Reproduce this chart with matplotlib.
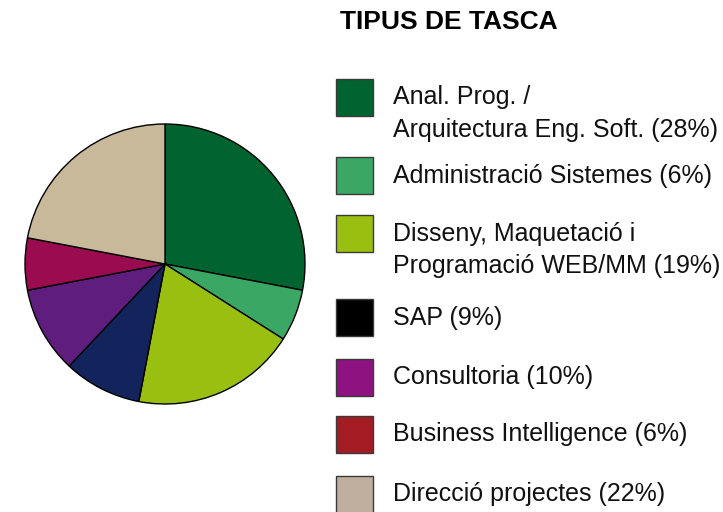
import matplotlib.pyplot as plt
from matplotlib.patches import Rectangle

plt.rcParams['font.family'] = ['Liberation Sans', 'DejaVu Sans']

title = 'TIPUS DE TASCA'
labels = ['Anal. Prog. /\nArquitectura Eng. Soft. (28%)',
          'Administració Sistemes (6%)',
          'Disseny, Maquetació i\nProgramació WEB/MM (19%)',
          'SAP (9%)',
          'Consultoria (10%)',
          'Business Intelligence (6%)',
          'Direcció projectes (22%)']
values = [28, 6, 19, 9, 10, 6, 22]
pie_colors = ['#006330', '#3aa864', '#99c010', '#13235b', '#5f1e7e', '#9b0b50', '#c9b99b']
legend_colors = ['#006330', '#3aa864', '#99c010', '#000000', '#8e1280', '#a31c24', '#c0ae9f']

W, H = 723, 512
fig = plt.figure(figsize=(W / 100, H / 100), dpi=100)

# pie, centred at about (165, 264) px with radius 140 px
ax = fig.add_axes([25 / W, (H - 404) / H, 280 / W, 280 / H])
ax.pie(values, colors=pie_colors, startangle=90, counterclock=False,
       wedgeprops=dict(edgecolor='black', linewidth=1.0))
ax.set_xlim(-1.0, 1.0)
ax.set_ylim(-1.0, 1.0)
ax.set_aspect('equal')
ax.axis('off')

# legend drawn in pixel coordinates
lg = fig.add_axes([0, 0, 1, 1])
lg.set_xlim(0, W)
lg.set_ylim(H, 0)
lg.axis('off')

lg.text(340, 22, title, fontsize=19, fontweight='bold', va='center', ha='left', color='black')

row_y = [97, 175.5, 233.5, 317.5, 377, 434, 494]
box = 37
for yc, lab, col in zip(row_y, labels, legend_colors):
    lg.add_patch(Rectangle((336, yc - box / 2), box, box, facecolor=col,
                           edgecolor='#3a3a3a', linewidth=1.0, clip_on=False))
    for j, line in enumerate(lab.split('\n')):
        lg.text(393, yc + j * 33, line, fontsize=18, va='center', ha='left', color='#111111')

fig.savefig('out.png', dpi=100)
